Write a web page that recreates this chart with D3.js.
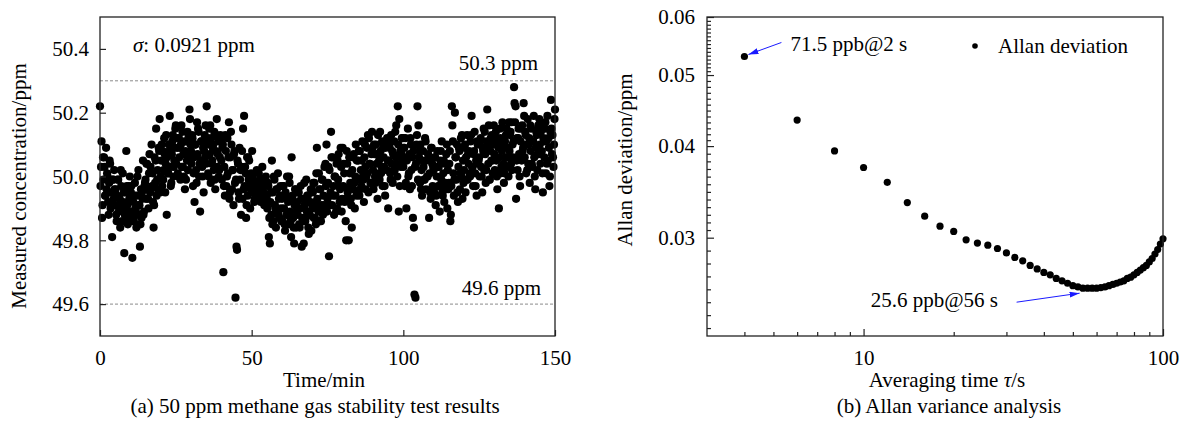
<!DOCTYPE html>
<html><head><meta charset="utf-8">
<script src="https://cdn.jsdelivr.net/npm/d3@7"></script>
<style>
body{margin:0;background:#fff}
svg text{font-family:"Liberation Serif","Times New Roman",serif;font-size:21px;fill:#000}
</style></head><body>
<svg id="c" width="1187" height="423" font-family="Liberation Serif"></svg>
<script>
// ---------- Panel (a) data ----------
const sampleIntervalMin = 1/6;
const concentration = [
50.22,49.97,50.03,50.11,49.87,49.91,50.06,49.99,50.06,50.03,49.94,49.94,50.09,49.96,50.01,50.00,49.92,49.88,49.98,50.05,50.04,49.90,49.95,49.92,49.81,49.99,49.99,49.93,50.02,49.96,
49.91,49.96,49.88,49.86,49.94,49.99,49.99,49.89,49.91,49.93,49.84,50.02,49.97,49.90,49.86,50.01,49.92,49.95,49.76,49.88,49.90,49.95,50.08,49.97,49.91,49.85,49.87,49.97,49.93,50.00,
49.89,49.95,49.97,49.87,49.745,49.86,49.92,49.86,49.94,49.98,49.90,49.89,49.84,49.94,50.00,49.88,50.02,49.91,49.91,49.78,49.85,49.96,49.87,49.95,49.93,50.05,49.88,49.89,49.97,49.98,
49.99,49.93,50.04,50.04,49.96,49.93,49.90,50.01,50.07,49.95,50.03,49.96,50.10,49.97,50.01,49.92,49.84,49.91,50.06,49.98,50.05,50.15,49.94,49.99,50.02,49.96,50.09,50.08,50.18,49.95,
50.00,50.05,50.10,49.97,50.08,49.99,50.02,50.12,50.07,49.95,50.04,50.13,49.88,50.06,50.01,50.01,50.10,50.08,50.19,50.03,49.97,49.98,50.07,50.11,50.13,50.00,50.03,50.05,50.09,50.15,
50.16,50.04,50.12,50.09,50.01,50.00,50.12,50.06,50.09,49.99,50.10,50.16,50.03,50.14,50.03,50.07,50.00,50.11,49.96,50.08,49.99,50.11,50.05,50.14,50.02,50.13,50.06,50.21,50.18,50.10,
50.08,50.04,50.13,50.12,49.97,50.01,50.06,49.92,50.10,50.10,50.02,49.98,50.17,50.07,50.15,50.14,50.00,50.04,49.89,50.05,50.11,50.11,50.03,50.00,50.09,49.95,50.08,50.13,50.06,50.16,
50.04,50.22,50.12,50.10,50.01,50.00,50.15,50.07,50.16,49.98,50.12,50.04,50.05,50.09,50.10,50.02,50.14,49.99,49.96,50.08,50.13,50.18,50.03,50.07,50.11,50.00,50.02,50.06,50.13,50.11,
50.05,49.99,50.09,50.10,49.70,49.97,50.03,49.94,50.13,50.08,49.97,50.00,50.12,50.01,50.06,50.17,49.93,49.95,50.06,50.14,50.10,49.96,50.02,50.02,49.91,50.07,50.08,49.98,49.62,49.99,
49.78,49.77,50.05,50.04,49.95,49.93,50.09,49.99,50.02,49.88,50.03,50.08,49.93,50.15,49.96,50.19,49.97,50.03,50.01,49.87,49.91,50.06,49.94,50.06,49.99,50.05,49.98,49.90,49.96,50.01,
49.97,50.08,50.00,49.95,49.96,49.92,49.93,49.98,49.98,49.96,50.02,49.94,49.94,49.97,50.01,49.95,49.99,49.93,49.92,49.96,49.97,50.03,49.95,49.95,49.98,49.91,49.99,49.97,50.00,49.93,
49.94,49.90,49.98,49.97,49.81,49.87,49.79,49.92,49.95,49.88,50.05,49.85,49.95,49.86,50.00,49.99,49.91,49.90,49.84,49.96,49.96,49.89,50.01,49.88,49.93,49.87,49.94,49.97,49.90,49.86,
49.93,49.86,49.97,49.97,49.90,49.85,49.83,49.95,49.94,49.88,50.00,49.88,49.92,49.85,50.00,49.98,49.89,49.86,49.81,50.06,49.93,49.94,49.87,49.84,49.79,49.91,49.96,49.96,49.84,49.89,
49.92,49.88,49.95,49.95,49.85,49.84,49.90,49.97,49.93,49.78,49.87,49.86,49.93,49.79,49.98,49.91,49.86,49.87,49.99,49.89,49.94,49.94,49.84,49.82,49.92,49.88,49.92,49.96,49.83,49.96,
49.90,49.95,49.98,49.87,49.98,49.87,49.92,49.85,50.01,50.09,49.93,49.90,49.89,50.01,49.96,49.86,49.96,49.86,49.91,49.99,49.99,49.88,49.94,49.91,50.03,49.90,50.04,49.97,50.10,49.89,
49.93,49.98,50.03,49.75,50.02,49.91,49.95,50.14,50.06,49.91,50.06,49.94,49.97,49.88,50.00,50.00,49.94,49.89,50.04,49.90,50.05,49.99,50.07,49.97,49.92,49.96,50.09,50.03,49.89,49.93,
50.09,49.97,50.04,50.01,49.92,49.93,49.86,49.80,50.08,50.04,49.95,49.96,49.80,50.06,50.01,49.98,49.93,49.91,49.84,50.02,50.06,49.96,50.07,49.98,49.90,50.00,50.10,49.94,50.05,49.95,
49.99,50.05,50.08,49.94,50.08,49.96,50.02,49.97,50.05,50.11,50.00,49.99,49.92,50.06,50.10,50.03,49.96,50.00,50.09,50.01,50.13,49.95,50.12,50.04,50.04,49.98,49.98,50.07,50.14,50.09,
50.02,49.96,50.10,50.07,50.00,49.98,50.10,50.04,50.07,49.93,50.13,50.01,50.05,49.99,50.14,50.08,50.01,50.03,50.11,49.97,50.09,50.06,50.03,49.97,49.94,50.09,50.11,50.02,50.12,50.05,
49.90,50.05,50.11,50.09,50.01,49.99,50.13,50.04,50.08,49.98,50.07,50.02,50.11,50.02,50.14,50.06,50.16,50.04,50.00,50.22,50.10,49.89,50.18,49.97,50.08,50.03,50.07,50.12,50.05,50.12,
50.03,50.09,50.09,49.97,50.12,49.98,49.90,50.05,50.06,50.15,50.00,50.01,50.07,49.96,50.12,50.10,50.02,49.97,50.06,49.87,50.08,49.84,49.63,50.03,49.62,50.04,50.10,50.13,50.22,49.99,
50.16,50.06,50.08,49.98,50.10,49.96,50.02,49.94,50.05,50.08,50.03,49.99,49.99,50.12,50.11,49.96,50.05,50.00,50.00,50.07,50.06,49.87,50.01,49.95,49.93,50.09,50.09,50.04,49.97,50.03,
50.02,49.95,50.06,50.06,49.91,49.94,50.00,50.08,50.03,49.97,50.03,49.97,49.89,50.05,50.08,49.99,50.11,49.95,49.94,50.01,50.05,49.92,50.04,49.98,49.96,50.07,50.10,49.90,50.02,49.96,
49.98,50.04,50.08,49.86,49.88,49.97,50.22,50.16,50.11,50.01,49.94,49.99,50.20,50.06,50.06,49.99,50.10,49.95,49.92,50.03,50.09,50.08,49.96,50.01,50.12,50.00,50.13,49.93,50.05,49.98,
50.02,50.09,50.10,49.95,50.06,49.99,50.13,49.99,50.07,50.04,50.08,50.01,50.00,50.11,50.13,50.19,50.03,50.03,49.97,50.07,50.08,50.14,50.01,49.97,50.05,49.94,50.11,50.10,50.04,50.05,
50.06,50.00,50.11,50.12,50.03,50.00,49.95,50.09,50.08,50.15,50.02,50.14,50.07,49.98,50.02,50.11,50.21,50.09,50.04,50.16,49.99,49.99,50.08,50.12,50.05,50.13,50.05,50.01,50.10,50.16,
50.07,50.02,50.12,50.14,50.05,50.00,49.96,50.10,50.09,49.90,50.06,50.15,50.12,50.01,50.03,50.08,50.17,50.10,50.04,49.98,50.01,50.11,50.06,50.13,50.15,50.03,50.06,50.09,50.00,50.17,
50.08,50.13,50.14,50.04,50.17,50.02,50.10,50.06,50.11,50.28,50.23,50.17,50.22,49.93,50.05,50.12,50.02,50.12,50.15,50.07,50.00,49.97,50.11,50.15,50.05,50.16,50.08,50.09,50.23,50.19,
50.06,50.14,50.13,50.01,50.10,50.02,50.18,50.04,50.10,50.12,49.98,50.16,50.08,50.15,50.04,50.03,50.11,50.11,50.19,50.06,50.00,49.96,50.09,50.14,50.13,50.02,50.07,50.16,50.07,50.18,
50.10,50.04,50.14,50.17,50.08,50.01,49.95,50.12,50.11,50.06,50.15,50.17,50.01,50.11,50.04,50.19,50.05,50.12,50.09,49.97,50.00,50.14,50.24,50.15,50.07,50.13,50.06,50.03,50.10,50.18,
50.21
];
const concDomain = [49.5, 50.5];
const timeDomain = [0, 150];
const concTicks = [49.6, 49.8, 50.0, 50.2, 50.4];
const timeTicks = [0, 50, 100, 150];
const limitLines = [50.3, 49.6];
const limitLabels = ["50.3 ppm", "49.6 ppm"];
const sigmaValue = "0.0921 ppm";

// ---------- Panel (b) data ----------
const tau = [4,6,8,10,12,14,16,18,20,22,24,26,28,30,32,34,36,38,40,42,44,46,48,50,52,54,56,58,60,
  62,64,66,68,70,72,74,76,78,80,82,84,86,88,90,92,94,96,98,100];
const allanDev = [0.0530,0.0434,0.0394,0.0374,0.0357,0.0335,0.0321,0.0311,0.0306,0.0298,0.0295,0.0293,0.0290,0.0286,
  0.0282,0.0279,0.0275,0.0272,0.0269,0.0267,0.0264,0.0262,0.0260,0.0258,0.0257,0.0256,0.0256,0.0256,0.0256,
  0.02565,0.0257,0.0258,0.0259,0.0260,0.0261,0.0262,0.0264,0.0265,0.0267,0.0269,0.0271,0.0273,0.0275,0.0278,
  0.0281,0.0285,0.0289,0.0294,0.0299];
const tauDomain = [3, 100];
const allanDomain = [0.02203, 0.06];
const tauTicks = [10, 100];
const tauMinorTicks = [4,5,6,7,8,9,20,30,40,50,60,70,80,90];
const allanTicks = [0.03, 0.04, 0.05, 0.06];
const allanMinorCounts = [10, 12, 12, 15]; // subdivisions of [0.02,0.03],[0.03,0.04],[0.04,0.05],[0.05,0.06]
const annoHigh = {tau: 4, text: "71.5 ppb@2 s"};
const annoLow = {tau: 56, text: "25.6 ppb@56 s"};
const legendLabel = "Allan deviation";

// ---------- drawing ----------
const svg = d3.select("#c");
const FRAME = "#222";
const defs = svg.append("defs");
defs.append("marker").attr("id","ah").attr("viewBox","0 0 10 6").attr("refX",10).attr("refY",3)
  .attr("markerWidth",10).attr("markerHeight",6).attr("markerUnits","userSpaceOnUse").attr("orient","auto")
  .append("path").attr("d","M0,0 L10,3 L0,6 Z").attr("fill","#1a1aff");

function styleAxis(g){
  g.select(".domain").remove();
  g.selectAll(".tick line").attr("stroke", FRAME).attr("stroke-width", 1.2);
  g.attr("font-family", null).attr("font-size", null);
}

// Panel (a)
const xA = d3.scaleLinear(timeDomain, [100, 555]);
const yA = d3.scaleLinear(concDomain, [336, 17]);
const gA = svg.append("g");

limitLines.forEach((v,i)=>{
  gA.append("line").attr("x1",xA.range()[0]).attr("x2",xA.range()[1]).attr("y1",yA(v)).attr("y2",yA(v))
    .attr("stroke","#8a8a8a").attr("stroke-width",1).attr("stroke-dasharray","3,2");
});
gA.append("text").attr("x",538).attr("y",yA(limitLines[0])-11).attr("text-anchor","end").text(limitLabels[0]);
gA.append("text").attr("x",541).attr("y",yA(limitLines[1])-9).attr("text-anchor","end").text(limitLabels[1]);

gA.append("g").selectAll("circle").data(concentration).join("circle")
  .attr("cx",(d,i)=>xA(i*sampleIntervalMin)).attr("cy",d=>yA(d)).attr("r",4.1).attr("fill","#000");

const sig = gA.append("text").attr("x",133).attr("y",52);
sig.append("tspan").attr("font-style","italic").text("σ");
sig.append("tspan").text(": " + sigmaValue);

gA.append("g").attr("transform",`translate(100,0)`)
  .call(d3.axisLeft(yA).tickValues(concTicks).tickSizeInner(-6).tickSizeOuter(0).tickPadding(11).tickFormat(d3.format(".1f")))
  .call(styleAxis);
gA.append("g").attr("transform",`translate(0,336)`)
  .call(d3.axisBottom(xA).tickValues(timeTicks).tickSizeInner(-6).tickSizeOuter(0).tickPadding(14).tickFormat(d3.format("d")))
  .call(styleAxis);
gA.append("rect").attr("x",100).attr("y",17).attr("width",455).attr("height",319)
  .attr("fill","none").attr("stroke",FRAME).attr("stroke-width",1.3);

gA.append("text").attr("transform","translate(26,186) rotate(-90)").attr("text-anchor","middle").text("Measured concentration/ppm");
gA.append("text").attr("x",324).attr("y",387).attr("text-anchor","middle").text("Time/min");
gA.append("text").attr("x",315).attr("y",413).attr("text-anchor","middle").text("(a) 50 ppm methane gas stability test results");

// Panel (b)
const xB = d3.scaleLog(tauDomain, [707, 1163]);
const yB = d3.scaleLog(allanDomain, [336, 17]);
const gB = svg.append("g");

gB.append("g").selectAll("circle").data(tau).join("circle")
  .attr("cx",d=>xB(d)).attr("cy",(d,i)=>yB(allanDev[i])).attr("r",3.6).attr("fill","#000");

// minor y ticks: even log subdivisions between majors
const majorsB = [0.02].concat(allanTicks);
let allanMinor = [];
for (let k=0;k<majorsB.length-1;k++){
  const a=Math.log10(majorsB[k]), b=Math.log10(majorsB[k+1]), n=allanMinorCounts[k];
  for (let j=1;j<n;j++){ const v=Math.pow(10,a+(b-a)*j/n); if(v>=allanDomain[0]) allanMinor.push(v); }
}
gB.append("g").attr("transform","translate(707,0)")
  .call(d3.axisLeft(yB).tickValues(allanMinor).tickSizeInner(-4).tickSizeOuter(0).tickFormat(""))
  .call(styleAxis);
gB.append("g").attr("transform","translate(707,0)")
  .call(d3.axisLeft(yB).tickValues(allanTicks).tickSizeInner(-7).tickSizeOuter(0).tickPadding(12).tickFormat(d3.format(".2f")))
  .call(styleAxis);
gB.append("g").attr("transform","translate(0,336)")
  .call(d3.axisBottom(xB).tickValues(tauMinorTicks).tickSizeInner(-4).tickSizeOuter(0).tickFormat(""))
  .call(styleAxis);
gB.append("g").attr("transform","translate(0,336)")
  .call(d3.axisBottom(xB).tickValues(tauTicks).tickSizeInner(-7).tickSizeOuter(0).tickPadding(14).tickFormat(d3.format("d")))
  .call(styleAxis);
gB.append("rect").attr("x",707).attr("y",17).attr("width",456).attr("height",319)
  .attr("fill","none").attr("stroke",FRAME).attr("stroke-width",1.3);

// annotations
const iH = tau.indexOf(annoHigh.tau), iL = tau.indexOf(annoLow.tau);
const pH = [xB(annoHigh.tau), yB(allanDev[iH])], pL = [xB(annoLow.tau), yB(allanDev[iL])];
gB.append("line").attr("x1",pH[0]+37).attr("y1",pH[1]-14).attr("x2",pH[0]+4).attr("y2",pH[1]-2)
  .attr("stroke","#1a1aff").attr("stroke-width",1).attr("marker-end","url(#ah)");
gB.append("text").attr("x",pH[0]+46).attr("y",51).text(annoHigh.text);
gB.append("line").attr("x1",pL[0]-71).attr("y1",pL[1]+14).attr("x2",pL[0]-8).attr("y2",pL[1]+5)
  .attr("stroke","#1a1aff").attr("stroke-width",1).attr("marker-end","url(#ah)");
gB.append("text").attr("x",998).attr("y",307).attr("text-anchor","end").text(annoLow.text);

// legend
gB.append("circle").attr("cx",975).attr("cy",46).attr("r",2.8).attr("fill","#000");
gB.append("text").attr("x",998).attr("y",53).text(legendLabel);

gB.append("text").attr("transform","translate(632,160) rotate(-90)").attr("text-anchor","middle").text("Allan deviation/ppm");
const xl = gB.append("text").attr("x",947).attr("y",387).attr("text-anchor","middle");
xl.append("tspan").text("Averaging time ");
xl.append("tspan").attr("font-style","italic").text("τ");
xl.append("tspan").text("/s");
gB.append("text").attr("x",949).attr("y",413).attr("text-anchor","middle").text("(b) Allan variance analysis");
</script>
</body></html>
